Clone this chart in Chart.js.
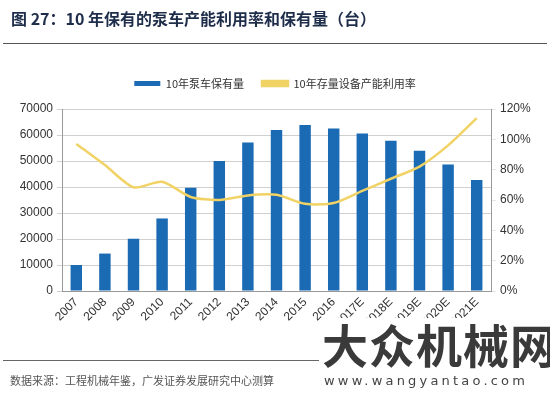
<!DOCTYPE html>
<html>
<head>
<meta charset="utf-8">
<script src="https://cdn.jsdelivr.net/npm/chart.js@4"></script>
<style>
  body { margin: 0; background: #fff; }
  #wrap { position: relative; width: 550px; height: 400px; overflow: hidden; }
  #grafico { position: absolute; left: 0; top: 0; }
  .txt { position: absolute; white-space: nowrap; font-family: "Noto Sans CJK SC", sans-serif; }
  #titulo { left: 11px; top: 6px; font-size: 16px; font-weight: bold; color: #1e2d4a; }
  #linhaTopo { position: absolute; left: 3px; top: 43px; width: 544px; height: 1px; background: #555; }
  #linhaRodape { position: absolute; left: 3px; top: 360px; width: 316px; height: 1px; background: #666; }
  #fonte { left: 10px; top: 372px; font-size: 11px; color: #555; }
  #marca { left: 320px; top: 318px; font-size: 46px; font-weight: bold; color: #3a3a3a; letter-spacing: 1px; background: #fff; line-height: 50px; padding: 0 2px; }
  #site { left: 324px; top: 373px; font-size: 13px; color: #444; letter-spacing: 3.2px; font-family: "DejaVu Sans", sans-serif; }
</style>
</head>
<body>
<div id="wrap">
  <canvas id="grafico" width="550" height="400"></canvas>
  <div id="titulo" class="txt">图 27：10 年保有的泵车产能利用率和保有量（台）</div>
  <div id="linhaTopo"></div>
  <div id="linhaRodape"></div>
  <div id="fonte" class="txt">数据来源：工程机械年鉴，广发证券发展研究中心测算</div>
  <div id="marca" class="txt">大众机械网</div>
  <div id="site" class="txt">www.wangyantao.com</div>
</div>
<script>
var anos = ["2007", "2008", "2009", "2010", "2011", "2012", "2013", "2014", "2015", "2016", "2017E", "2018E", "2019E", "2020E", "2021E"];
var bombasAtivas = [10000, 14400, 20100, 27900, 39700, 50000, 57100, 61900, 63800, 62500, 60600, 57800, 53900, 48700, 42700];
var taxaUso = [0.97, 0.83, 0.684, 0.72, 0.62, 0.60, 0.63, 0.634, 0.575, 0.58, 0.66, 0.74, 0.82, 0.96, 1.14];

var fonteEixo = { family: "'Liberation Sans', Arial, sans-serif", size: 12 };

function init_grafico() {
    if ("undefined" == typeof Chart) return;
    var ctx = document.getElementById("grafico");
    new Chart(ctx, {
        data: {
            labels: anos,
            datasets: [{
                type: "line",
                label: "10年存量设备产能利用率",
                data: taxaUso,
                yAxisID: "y1",
                borderColor: "#f1d264",
                backgroundColor: "#f1d264",
                borderWidth: 2.5,
                pointRadius: 0,
                tension: 0.25,
                order: 0
            }, {
                type: "bar",
                label: "10年泵车保有量",
                data: bombasAtivas,
                yAxisID: "y",
                backgroundColor: "#1a6ab4",
                barPercentage: 0.8,
                categoryPercentage: 0.5,
                order: 1
            }]
        },
        options: {
            responsive: false,
            animation: false,
            layout: { padding: { left: 0, right: 0, top: 60, bottom: 69 } },
            plugins: {
                legend: {
                    position: "top",
                    reverse: true,
                    labels: {
                        boxWidth: 26,
                        boxHeight: 5,
                        padding: 18,
                        color: "#333",
                        font: { family: "'Noto Sans CJK SC', sans-serif", size: 11 }
                    }
                },
                // espaco vazio entre a legenda e o grafico
                subtitle: {
                    display: true,
                    text: "",
                    weight: 500,
                    padding: 0,
                    font: { size: 8, lineHeight: 1.25 }
                },
                tooltip: { enabled: false }
            },
            scales: {
                x: {
                    grid: { display: false, drawTicks: true, tickLength: 4 },
                    border: { color: "#999" },
                    ticks: { color: "#333", font: fonteEixo, minRotation: 45, maxRotation: 45, padding: 0 },
                    afterFit: function (s) { s.height = 40; }
                },
                y: {
                    position: "left",
                    min: 0, max: 70000,
                    ticks: {
                        stepSize: 10000, color: "#333", font: fonteEixo, padding: 4,
                        callback: function (v) { return String(v); }
                    },
                    grid: { color: "#d0d0d0", tickLength: 5 },
                    border: { color: "#999" },
                    afterFit: function (s) { s.width = 62; }
                },
                y1: {
                    position: "right",
                    min: 0, max: 1.2,
                    ticks: {
                        stepSize: 0.2, color: "#333", font: fonteEixo, padding: 4,
                        callback: function (v) { return Math.round(v * 100) + "%"; }
                    },
                    grid: { drawOnChartArea: false, tickLength: 5 },
                    border: { color: "#999" },
                    afterFit: function (s) { s.width = 59; }
                }
            }
        }
    });
}

init_grafico();
</script>
</body>
</html>
